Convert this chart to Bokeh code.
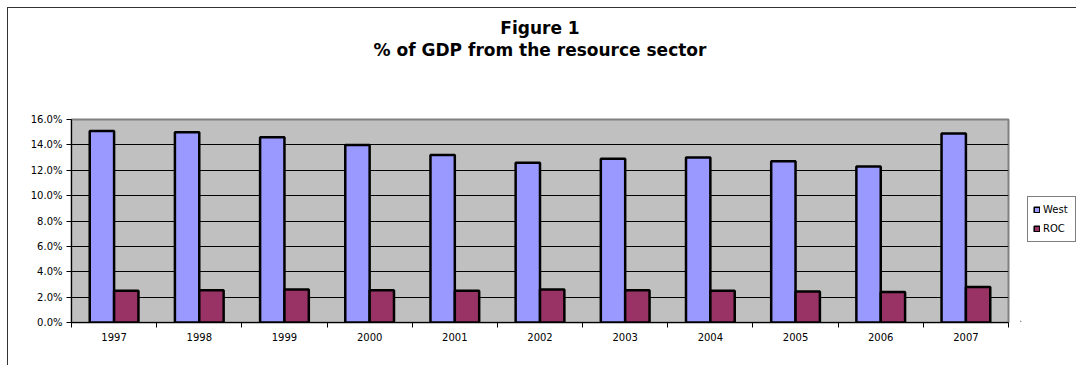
from bokeh.plotting import figure
from bokeh.layouts import row
from bokeh.models import (Range1d, FixedTicker, PrintfTickFormatter, Legend, LegendItem,
                          Title, ColumnDataSource)
from bokeh.embed import file_html
from bokeh.resources import INLINE

years = ["1997", "1998", "1999", "2000", "2001", "2002", "2003", "2004", "2005", "2006", "2007"]
west = [15.1, 15.0, 14.6, 14.0, 13.2, 12.6, 12.9, 13.0, 12.7, 12.3, 14.9]
roc = [2.5, 2.55, 2.6, 2.55, 2.5, 2.6, 2.55, 2.5, 2.45, 2.4, 2.8]
y_ticks = [0, 2, 4, 6, 8, 10, 12, 14, 16]
title_lines = ["Figure 1", "% of GDP from the resource sector"]
series_names = ["West", "ROC"]
series_colors = ["#9999FF", "#993366"]

FONT = "DejaVu Sans"
n = len(years)
centers = [i + 0.5 for i in range(n)]
bw = 0.286

src = ColumnDataSource(dict(
    xw=[c - bw / 2 for c in centers],
    xr=[c + bw / 2 for c in centers],
    west=west, roc=roc, year=years))

p = figure(frame_width=936, frame_height=202, output_backend="svg", toolbar_location=None,
           x_range=Range1d(0, n), y_range=Range1d(0, 16), title=None,
           min_border_left=63, min_border_right=13, min_border_top=111, min_border_bottom=44)
p.margin = (7, 0, 0, 7)
p.styles = {"border-left": "1px solid #333333", "border-top": "1px solid #333333"}
p.background_fill_color = "#C0C0C0"
p.border_fill_color = "white"
p.outline_line_color = "#808080"
p.outline_line_width = 2

# titles: first added sits closest to the frame (first one is an empty spacer)
p.add_layout(Title(text=" ", text_font_size="1px", standoff=57), "above")
p.add_layout(Title(text=title_lines[1], align="center", text_font=FONT,
                   text_font_style="bold", text_font_size="17px", text_color="black",
                   standoff=0), "above")
p.add_layout(Title(text=title_lines[0], align="center", text_font=FONT,
                   text_font_style="bold", text_font_size="17px", text_color="black",
                   standoff=0), "above")

rw = p.vbar(x="xw", top="west", width=bw, source=src, fill_color=series_colors[0],
            line_color="black", line_width=2.5)
rr = p.vbar(x="xr", top="roc", width=bw, source=src, fill_color=series_colors[1],
            line_color="black", line_width=2.5)

# y axis
p.yaxis.ticker = FixedTicker(ticks=y_ticks)
p.yaxis.formatter = PrintfTickFormatter(format="%.1f%%")
p.yaxis.major_tick_out = 5
p.yaxis.major_tick_in = 0
p.yaxis.minor_tick_line_color = None
p.yaxis.major_label_standoff = 4
p.yaxis.axis_line_color = "black"
p.yaxis.major_label_text_font = FONT
p.yaxis.major_label_text_font_size = "10px"
p.yaxis.major_label_text_color = "black"

# x axis: labels at category centres, ticks between categories
p.xaxis.ticker = FixedTicker(ticks=centers, minor_ticks=list(range(n + 1)))
p.xaxis.major_label_overrides = {c: y for c, y in zip(centers, years)}
p.xaxis.major_tick_out = 0
p.xaxis.major_tick_in = 0
p.xaxis.major_tick_line_color = None
p.xaxis.minor_tick_out = 5
p.xaxis.minor_tick_in = 0
p.xaxis.minor_tick_line_color = "black"
p.xaxis.major_label_standoff = 5
p.xaxis.axis_line_color = "black"
p.xaxis.major_label_text_font = FONT
p.xaxis.major_label_text_font_size = "10px"
p.xaxis.major_label_text_color = "black"

p.xgrid.grid_line_color = None
p.ygrid.grid_line_color = "black"
p.ygrid.grid_line_width = 1
p.ygrid.ticker = FixedTicker(ticks=y_ticks)

# legend lives in a narrow companion figure to the right
lf = figure(width=56, height=357, output_backend="svg", toolbar_location=None,
            x_range=Range1d(0, 1), y_range=Range1d(0, 1), title=None,
            x_axis_location=None, y_axis_location=None,
            min_border_left=0, min_border_right=0, min_border_top=0, min_border_bottom=0)
lf.margin = (7, 0, 0, 0)
lf.styles = {"border-top": "1px solid #333333"}
lf.background_fill_color = "white"
lf.border_fill_color = "white"
lf.outline_line_color = None
lf.xgrid.grid_line_color = None
lf.ygrid.grid_line_color = None

# legend key renderers (one point each, kept outside the visible range)
proxies = [lf.vbar(x=[-5], top=[-5], width=0.1, fill_color=c, line_color="black", line_width=1.5)
           for c in series_colors]
legend = Legend(items=[LegendItem(label=nm, renderers=[r]) for nm, r in zip(series_names, proxies)],
                location=(7, 79), glyph_width=7, glyph_height=7, label_height=15,
                label_width=27, label_standoff=3, spacing=4, padding=5, margin=0,
                border_line_color="black", border_line_width=1,
                background_fill_color="white", background_fill_alpha=1,
                label_text_font=FONT, label_text_font_size="10px", label_text_color="black")
lf.add_layout(legend)

layout = row(p, lf, spacing=0)
open("out.html", "w").write(file_html(layout, INLINE))
